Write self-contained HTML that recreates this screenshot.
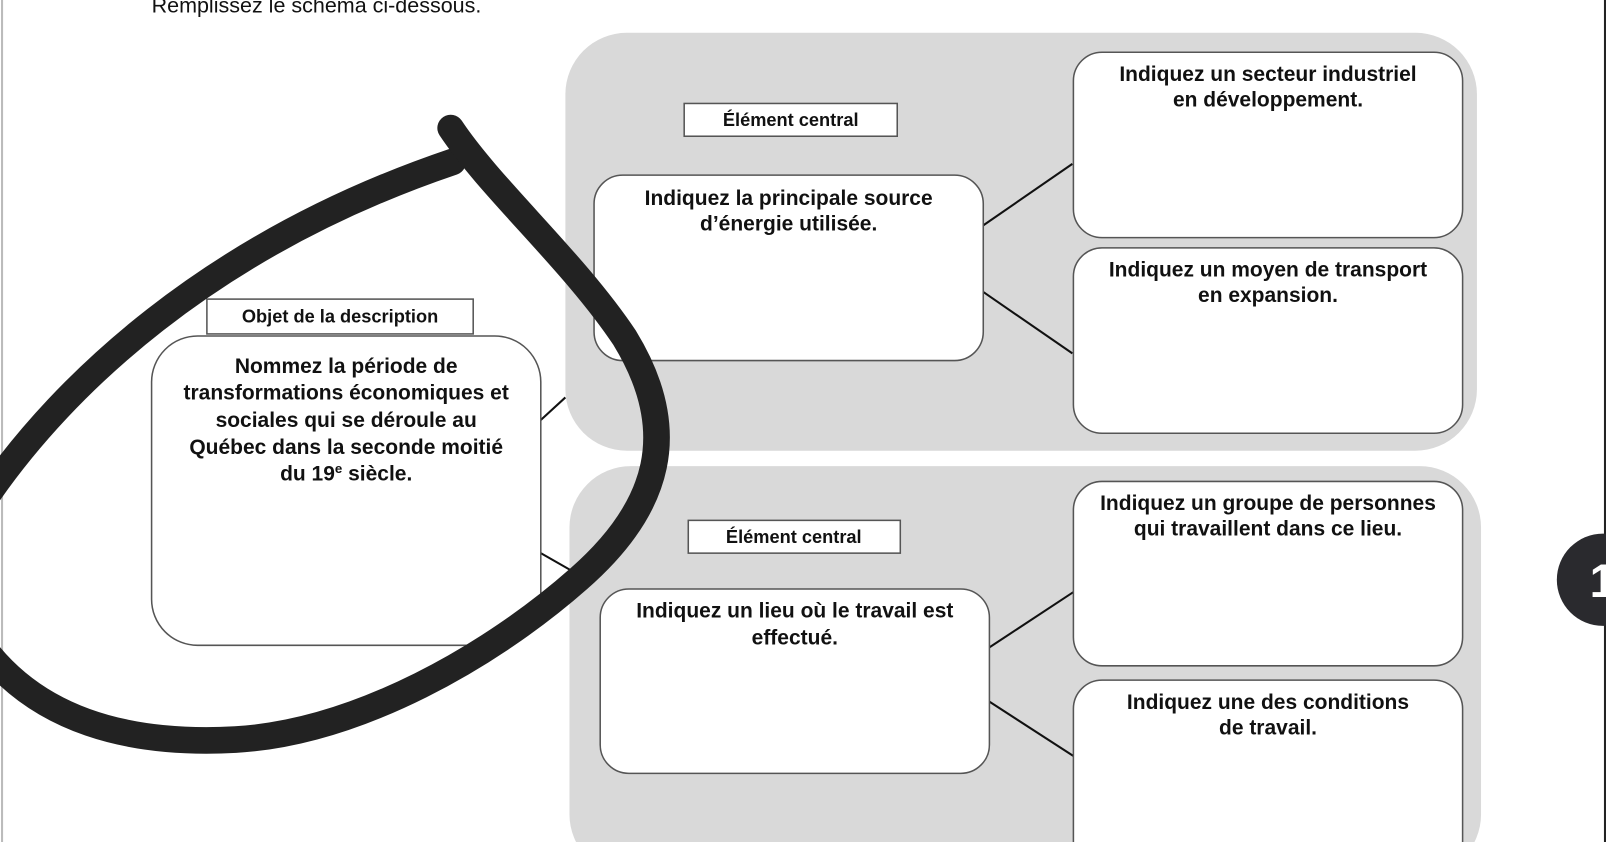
<!DOCTYPE html>
<html><head><meta charset="utf-8"><style>
html,body{margin:0;padding:0;background:#fff;overflow:hidden;width:1606px;height:842px}
svg{display:block;overflow:hidden}
text{font-family:"Liberation Sans",Arial,sans-serif;font-weight:bold;fill:#111;text-anchor:middle;font-size:20.5px}
.lbl{font-size:17.8px}
</style></head><body>
<svg width="1606" height="842" viewBox="0 0 1568 822" preserveAspectRatio="none" xmlns="http://www.w3.org/2000/svg">
<rect x="0" y="0" width="1568" height="822" fill="#fff"/>
<line x1="2" y1="0" x2="2" y2="822" stroke="#bbb" stroke-width="2"/>
<text x="309" y="12" style="font-weight:normal;font-size:21px">Remplissez le schéma ci-dessous.</text>

<rect x="552" y="32" width="890" height="408" rx="60" fill="#d9d9d9"/>
<rect x="556" y="455" width="890" height="400" rx="60" fill="#d9d9d9"/>

<g stroke="#111" stroke-width="2">
<line x1="960" y1="220" x2="1047" y2="160"/>
<line x1="960" y1="285" x2="1047" y2="345"/>
<line x1="528" y1="410" x2="552" y2="388"/>
<line x1="528" y1="540" x2="556" y2="556"/>
<line x1="966" y1="632" x2="1048" y2="578"/>
<line x1="966" y1="685" x2="1048" y2="738"/>
</g>

<g fill="#fff" stroke="#555" stroke-width="1.5">
<rect x="668" y="101" width="208" height="32"/>
<rect x="580" y="171" width="380" height="181" rx="28"/>
<rect x="1048" y="51" width="380" height="181" rx="28"/>
<rect x="1048" y="242" width="380" height="181" rx="28"/>
<rect x="202" y="292" width="260" height="34"/>
<rect x="148" y="328" width="380" height="302" rx="45"/>
<rect x="672" y="508" width="207" height="32"/>
<rect x="586" y="575" width="380" height="180" rx="28"/>
<rect x="1048" y="470" width="380" height="180" rx="28"/>
<rect x="1048" y="664" width="380" height="190" rx="28"/>
</g>

<text class="lbl" x="772" y="123">Élément central</text>
<text x="770" y="200">Indiquez la principale source</text>
<text x="770" y="225">d’énergie utilisée.</text>
<text x="1238" y="79">Indiquez un secteur industriel</text>
<text x="1238" y="104">en développement.</text>
<text x="1238" y="270">Indiquez un moyen de transport</text>
<text x="1238" y="295">en expansion.</text>
<text class="lbl" x="332" y="315">Objet de la description</text>
<text x="338" y="364">Nommez la période de</text>
<text x="338" y="390">transformations économiques et</text>
<text x="338" y="417">sociales qui se déroule au</text>
<text x="338" y="443">Québec dans la seconde moitié</text>
<text x="338" y="469">du 19<tspan font-size="13" dy="-7">e</tspan><tspan dy="7"> siècle.</tspan></text>
<text class="lbl" x="775" y="530">Élément central</text>
<text x="776" y="603">Indiquez un lieu où le travail est</text>
<text x="776" y="629">effectué.</text>
<text x="1238" y="498">Indiquez un groupe de personnes</text>
<text x="1238" y="523">qui travaillent dans ce lieu.</text>
<text x="1238" y="692">Indiquez une des conditions</text>
<text x="1238" y="717">de travail.</text>

<g fill="none" stroke="#222" stroke-width="26" stroke-linecap="round">
<path d="M -10 480 C 60 380, 200 240, 442 158"/>
<path d="M 440 125 C 480 185, 560 255, 610 330 C 665 420, 645 495, 565 565 C 480 640, 350 715, 230 722 C 120 728, 40 700, -10 640"/>
</g>

<rect x="1566" y="0" width="2" height="822" fill="#222"/>
<circle cx="1565" cy="566" r="45" fill="#2a2a2e"/>
<text x="1552" y="583" style="fill:#fff;font-size:46px;text-anchor:start">1</text>
</svg>
</body></html>
